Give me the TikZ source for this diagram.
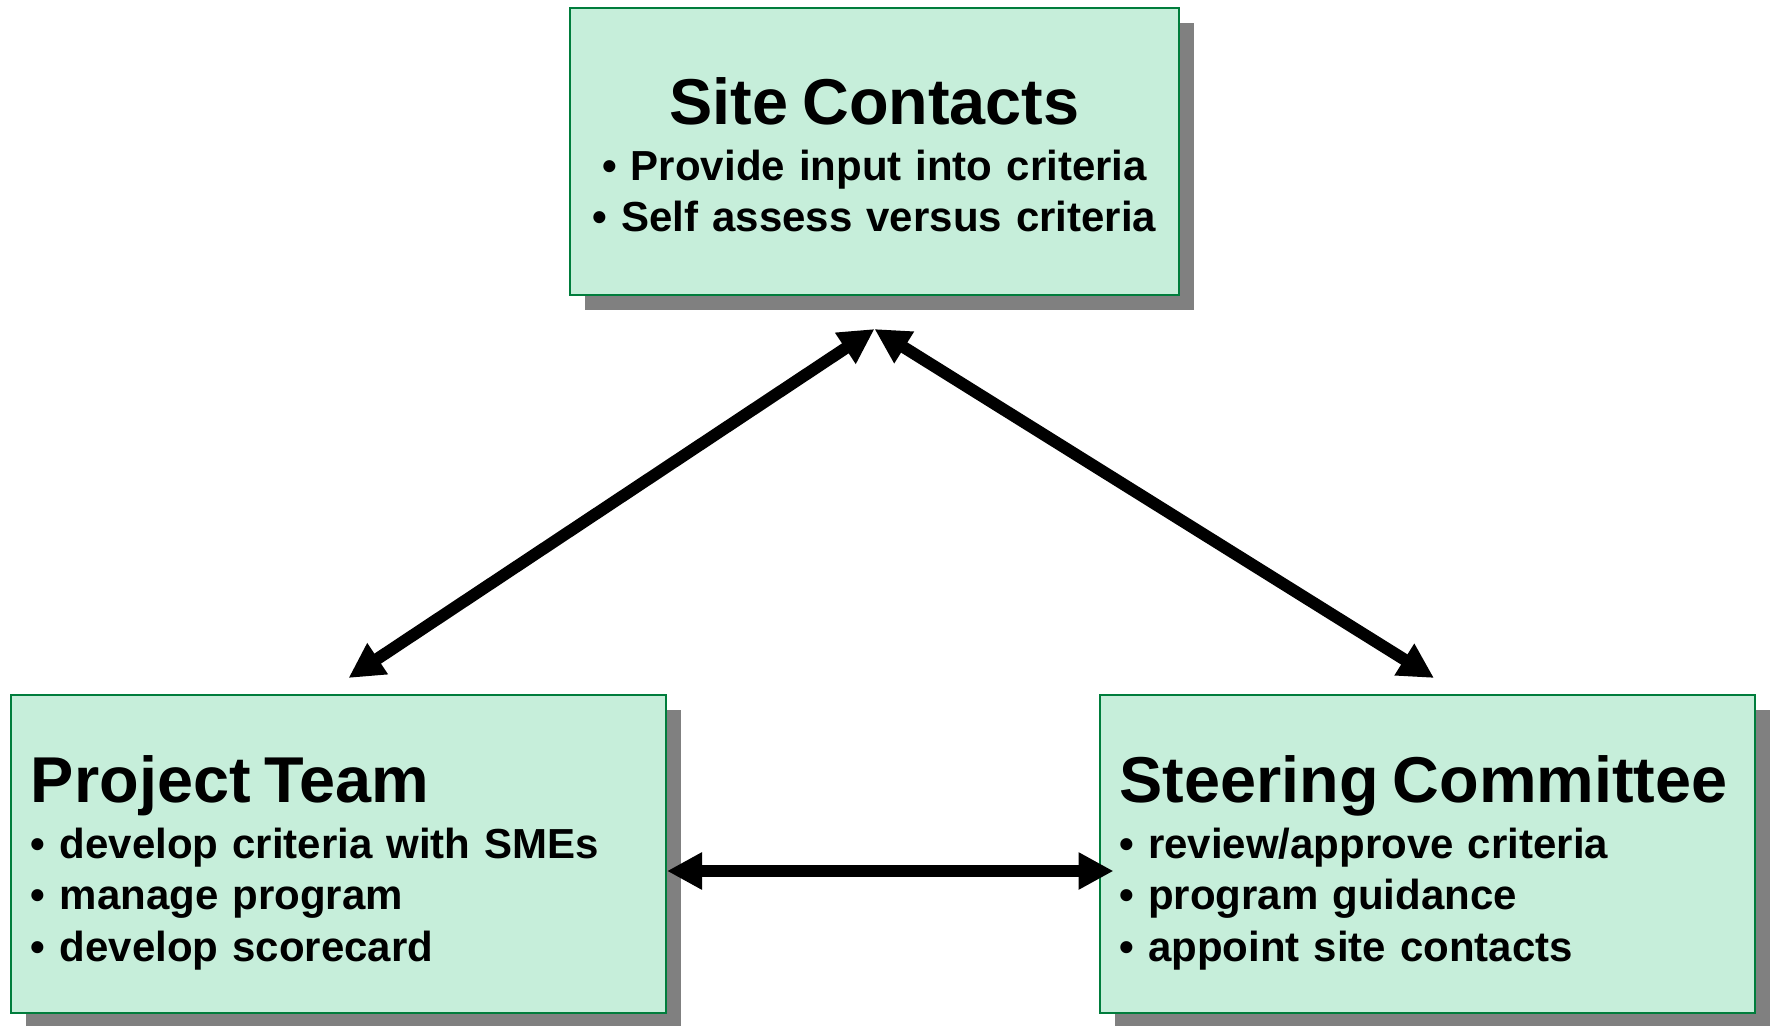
\documentclass[tikz,border=0pt]{standalone}
\usepackage{fontspec}
\setmainfont{Liberation Sans}
\usetikzlibrary{arrows.meta,shadows}

\definecolor{boxfill}{RGB}{198,238,218}
\definecolor{boxline}{RGB}{0,125,60}
\newcommand{\headfont}{\fontsize{32.4}{36}\bfseries\selectfont}
\newcommand{\itemfont}{\fontsize{21}{25.75}\bfseries\selectfont}

\tikzset{
  unitbox/.style={draw=boxline, line width=1pt, fill=boxfill, font=\itemfont, inner ysep=0pt,
    drop shadow={shadow xshift=7.5pt, shadow yshift=-7.5pt, fill=black!50, opacity=1}},
  sidebox/.style={unitbox, align=left, text width=307.5pt, inner xsep=10pt,
    minimum width=327.5pt, minimum height=159pt, text height=32pt},
  link/.style={line width=6pt, {Triangle[length=17.5pt,width=17.5pt]}-{Triangle[length=17.5pt,width=17.5pt]}}
}

\begin{document}
\begin{tikzpicture}[x=0.5pt,y=-0.5pt]
\useasboundingbox (0,0) rectangle (1771,1026);
% the three groups
\node[unitbox, align=center, text width=300pt, inner xsep=2.25pt,
  minimum width=304.5pt, minimum height=143.5pt, text height=26.5pt] (site) at (874.5,151.5)
  {{\headfont Site Contacts}\\[2.25pt]
   • Provide input into criteria\\
   • Self assess versus criteria};
\node[sidebox] (team) at (338.5,854)
  {{\headfont Project Team}\\[2.25pt]
   • develop criteria with SMEs\\
   • manage program\\
   • develop scorecard};
\node[sidebox] (steer) at (1427,854)
  {{\headfont Steering Committee}\\[2.25pt]
   • review/approve criteria\\
   • program guidance\\
   • appoint site contacts};
% arrow ends
\coordinate (apex) at ([yshift=-16.5pt]site.south);
\coordinate (team top) at ([xshift=5pt,yshift=8pt]team.north);
\coordinate (steer top) at ([xshift=3.5pt,yshift=8pt]steer.north);
\draw[link] (team top) -- (apex);
\draw[link] (steer top) -- (apex);
\draw[link] ([yshift=-8.5pt]team.east) -- ([xshift=7.5pt,yshift=-8.5pt]steer.west);
\end{tikzpicture}
\end{document}
